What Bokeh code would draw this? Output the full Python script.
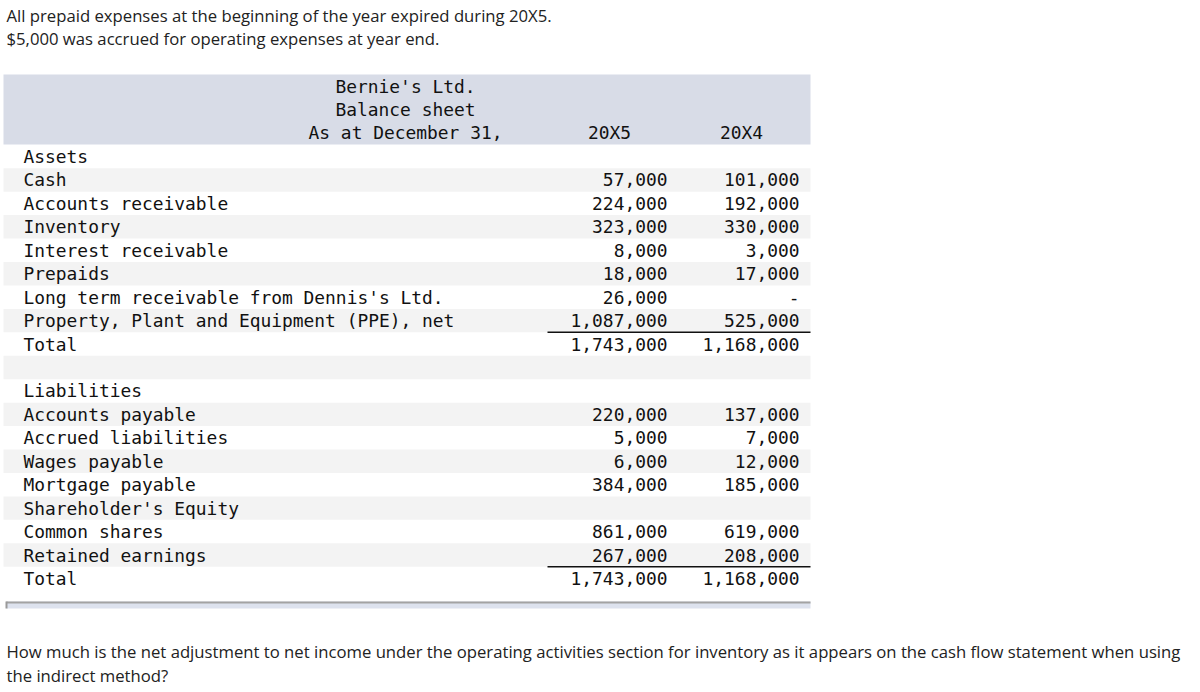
from bokeh.plotting import figure
from bokeh.models import Range1d, ColumnDataSource
from bokeh.core.properties import value
from bokeh.embed import file_html
from bokeh.resources import INLINE

# ---- data ----
intro_lines = [
    "All prepaid expenses at the beginning of the year expired during 20X5.",
    "$5,000 was accrued for operating expenses at year end.",
]
title_lines = ["Bernie's Ltd.", "Balance sheet", "As at December 31,"]
years = ["20X5", "20X4"]
labels = [
    "Assets", "Cash", "Accounts receivable", "Inventory", "Interest receivable",
    "Prepaids", "Long term receivable from Dennis's Ltd.",
    "Property, Plant and Equipment (PPE), net", "Total", "",
    "Liabilities", "Accounts payable", "Accrued liabilities", "Wages payable",
    "Mortgage payable", "Shareholder's Equity", "Common shares",
    "Retained earnings", "Total",
]
vals_20x5 = [None, 57000, 224000, 323000, 8000, 18000, 26000, 1087000, 1743000, None,
             None, 220000, 5000, 6000, 384000, None, 861000, 267000, 1743000]
vals_20x4 = [None, 101000, 192000, 330000, 3000, 17000, 0, 525000, 1168000, None,
             None, 137000, 7000, 12000, 185000, None, 619000, 208000, 1168000]
total_rows = [8, 18]
question_lines = [
    "How much is the net adjustment to net income under the operating activities section for inventory as it appears on the cash flow statement when using",
    "the indirect method?",
]

# ---- layout ----
W, H = 1192, 690
p = figure(width=W, height=H, output_backend="svg", toolbar_location=None,
           x_range=Range1d(0, W), y_range=Range1d(H, 0),
           min_border=0)
p.axis.visible = False
p.grid.visible = False
p.outline_line_color = None
p.background_fill_color = "white"
p.border_fill_color = "white"

SANS = value("Open Sans")
MONO = value("DejaVu Sans Mono")
FS_SANS = "16.7px"
FS_MONO = "17.9px"

TL, TR = 3, 810          # table left/right
HDR_TOP, HDR_BOT = 74, 144
ROW_H = 23.44
row_top0 = 144.3
c5_right, c4_right = 667, 799

def fmt(v):
    if v is None:
        return ""
    if v == 0:
        return "-"
    return f"{v:,}"

# intro text
p.text(x=[6, 6], y=[15, 38], text=intro_lines, text_font=SANS, text_font_size=FS_SANS,
       text_color="#222222", text_baseline="middle", text_align="left")

# header band
p.quad(left=[TL], right=[TR], top=[HDR_TOP], bottom=[HDR_BOT],
       fill_color="#d8dce7", line_color=None)
p.text(x=[405] * 3, y=[86, 109, 132], text=title_lines, text_font=MONO,
       text_font_size=FS_MONO, text_color="#111111", text_baseline="middle", text_align="center")
p.text(x=[609, 741], y=[132, 132], text=years, text_font=MONO,
       text_font_size=FS_MONO, text_color="#111111", text_baseline="middle", text_align="center")

# rows
n = len(labels)
tops = [row_top0 + i * ROW_H for i in range(n)]
bots = [t + ROW_H for t in tops]
mids = [t + ROW_H / 2 for t in tops]
grey_idx = [i for i in range(n) if i % 2 == 1]
p.quad(left=[TL] * len(grey_idx), right=[TR] * len(grey_idx),
       top=[tops[i] for i in grey_idx], bottom=[bots[i] for i in grey_idx],
       fill_color="#f3f3f3", line_color=None)

src = ColumnDataSource(dict(y=mids, lab=labels,
                            v5=[fmt(v) for v in vals_20x5],
                            v4=[fmt(v) for v in vals_20x4]))
p.text(x=23, y="y", text="lab", source=src, text_font=MONO, text_font_size=FS_MONO,
       text_color="#111111", text_baseline="middle", text_align="left")
p.text(x=c5_right, y="y", text="v5", source=src, text_font=MONO, text_font_size=FS_MONO,
       text_color="#111111", text_baseline="middle", text_align="right")
p.text(x=c4_right, y="y", text="v4", source=src, text_font=MONO, text_font_size=FS_MONO,
       text_color="#111111", text_baseline="middle", text_align="right")

# underlines above totals
p.segment(x0=[547] * len(total_rows), x1=[TR] * len(total_rows),
          y0=[tops[i] for i in total_rows], y1=[tops[i] for i in total_rows],
          line_color="#111111", line_width=1.5)

# bottom scroll bar
bar_top = 601
p.quad(left=[6], right=[TR], top=[bar_top], bottom=[bar_top + 7],
       fill_color="#dde2ee", line_color=None)
p.segment(x0=[6], x1=[TR], y0=[bar_top + 1], y1=[bar_top + 1],
          line_color="#a3a3a3", line_width=2)
p.segment(x0=[6], x1=[6], y0=[bar_top], y1=[bar_top + 7],
          line_color="#9a9a9a", line_width=2)

# question
p.text(x=[6, 6], y=[651, 675], text=question_lines, text_font=SANS, text_font_size=FS_SANS,
       text_color="#222222", text_baseline="middle", text_align="left")

open("out.html", "w").write(file_html(p, INLINE))
